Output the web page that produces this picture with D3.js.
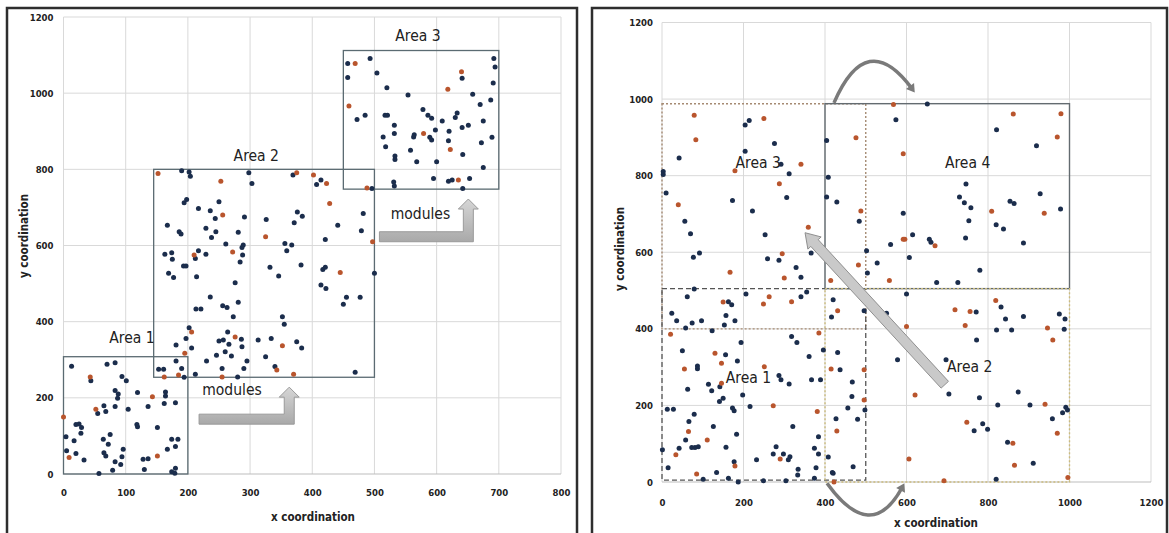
<!DOCTYPE html>
<html>
<head>
<meta charset="utf-8">
<script src="https://cdn.jsdelivr.net/npm/d3@7"></script>
<style>
  body { margin: 0; background: #fff; }
  svg { display: block; }
  .tick-label { font-family: "Liberation Sans Narrow", "DejaVu Sans Condensed", "Liberation Sans", sans-serif; font-weight: bold; font-size: 9.5px; fill: #222; }
  .axis-title { font-family: "Liberation Sans Narrow", "DejaVu Sans Condensed", "Liberation Sans", sans-serif; font-weight: bold; font-size: 11.5px; fill: #222; }
  .area-label { font-family: "Liberation Sans Narrow", "DejaVu Sans Condensed", "Liberation Sans", sans-serif; font-size: 15.5px; fill: #222; }
</style>
</head>
<body>
<div id="chart"></div>
<script>
// tick values
const leftXTicks = [0, 100, 200, 300, 400, 500, 600, 700, 800];
const leftYTicks = [0, 200, 400, 600, 800, 1000, 1200];
const rightXTicks = [0, 200, 400, 600, 800, 1000, 1200];
const rightYTicks = [0, 200, 400, 600, 800, 1000, 1200];

// left chart: module positions [x, y]
const leftNavy = [
  [13,283],[44,245],[70,288],[83,292],[94,256],[101,245],[119,214],[164,215],[164,205],[180,187],
  [83,219],[88,210],[87,199],[83,177],[104,170],[136,177],[162,185],[55,159],[65,179],[68,164],
  [20,130],[25,131],[29,122],[28,107],[17,87],[4,98],[5,61],[20,54],[33,37],[57,1],
  [64,91],[75,104],[72,78],[65,56],[68,47],[79,10],[83,32],[92,25],[96,65],[94,45],
  [128,39],[136,40],[130,12],[151,122],[118,130],[119,124],[167,65],[174,91],[184,91],[180,72],
  [174,6],[179,2],[180,15],
  [190,796],[202,793],[204,782],[298,791],[303,763],[369,785],[407,760],[414,772],[496,750],[194,712],
  [198,721],[217,697],[250,715],[236,691],[244,671],[291,675],[326,668],[376,688],[384,677],[371,660],
  [441,653],[482,684],[479,639],[167,653],[186,636],[189,630],[229,645],[245,636],[238,621],[281,635],
  [421,616],[261,604],[287,595],[289,601],[288,575],[356,605],[367,601],[359,586],[163,577],[174,581],
  [175,564],[212,566],[217,586],[229,577],[284,557],[193,546],[197,546],[332,543],[382,549],[417,537],
  [421,543],[500,527],[169,527],[177,516],[214,518],[346,520],[276,502],[414,496],[422,487],[236,465],
  [281,451],[256,442],[263,437],[455,464],[450,446],[477,464],[213,433],[221,433],[273,413],[352,413],
  [355,393],[202,384],[264,373],[286,354],[197,356],[181,339],[206,331],[250,349],[257,352],[266,341],
  [287,334],[313,352],[334,356],[375,347],[383,331],[260,321],[246,312],[270,310],[230,297],[295,297],
  [325,308],[181,297],[153,275],[161,275],[190,277],[255,277],[290,277],[340,282],[212,262],[469,267],
  [194,254],[280,255],
  [457,1078],[493,1091],[457,1041],[504,1053],[520,1014],[554,995],[472,931],[485,942],[517,942],[521,942],
  [532,916],[532,894],[514,885],[518,859],[533,835],[533,826],[563,885],[564,891],[558,850],[568,820],
  [578,957],[586,942],[592,934],[589,884],[592,877],[598,903],[609,927],[600,820],[620,900],[619,875],
  [630,936],[633,948],[641,1039],[641,910],[651,916],[642,839],[658,997],[670,970],[675,927],[672,870],
  [689,884],[687,982],[691,1027],[692,1091],[694,1069],[675,805],[595,776],[619,769],[625,772],[653,776],
  [642,750],[531,767],[532,756]
];
const leftOrange = [
  [43,255],[143,203],[52,170],[0,150],[9,43],[151,47],
  [152,789],[253,769],[375,791],[402,785],[423,763],[428,710],[488,751],[256,680],[325,623],[497,610],
  [272,583],[210,575],[445,529],[206,373],[276,360],[352,337],[195,317],[343,273],[370,262],[162,255],
  [185,260],[255,255],
  [469,1078],[459,966],[579,894],[622,852],[618,1010],[640,1056],[635,772]
];

// right chart: module positions [x, y]
const rightNavy = [
  [42,846],[3,811],[3,803],[10,755],[56,681],[70,648],[77,587],[92,598],[204,932],[214,944],
  [276,884],[204,864],[292,830],[312,805],[306,743],[173,735],[222,708],[253,646],[259,583],[287,579],
  [366,598],[329,560],[341,535],[404,892],[408,796],[404,744],[429,731],[574,946],[484,681],[502,604],
  [504,546],[528,572],[561,620],[592,702],
  [79,504],[62,484],[163,471],[171,463],[206,491],[341,484],[355,496],[420,476],[416,431],[496,447],
  [551,441],[24,441],[36,421],[74,415],[97,421],[58,402],[123,395],[157,435],[153,410],[179,421],
  [318,380],[331,364],[194,364],[50,343],[156,332],[185,316],[361,328],[396,345],[431,338],[87,303],
  [87,296],[437,293],[578,319],[63,242],[114,255],[122,238],[142,249],[287,278],[292,267],[312,256],
  [367,267],[389,267],[467,261],[466,223],[498,188],[150,219],[141,210],[198,227],[216,197],[173,193],
  [177,186],[13,190],[28,190],[79,177],[456,193],[427,165],[480,164],[66,158],[126,145],[321,145],
  [183,125],[58,110],[384,118],[1,84],[42,88],[73,90],[81,90],[89,92],[157,91],[280,92],
  [273,73],[298,73],[314,66],[310,58],[374,88],[384,73],[408,65],[232,58],[177,53],[15,37],
  [134,25],[334,33],[333,18],[378,37],[420,23],[469,40],[101,7],[163,10],[187,0],[249,3],
  [304,3],[374,10],[418,25],
  [651,987],[821,920],[919,878],[746,778],[730,744],[742,729],[758,716],[753,682],[854,733],[864,727],
  [928,753],[978,713],[820,672],[838,661],[745,637],[887,624],[615,646],[656,634],[660,626],[607,586],
  [780,553],
  [674,521],[726,521],[600,491],[832,457],[771,444],[843,426],[887,432],[975,439],[989,426],[821,397],
  [858,397],[987,399],[772,371],[697,319],[704,230],[779,220],[874,235],[824,201],[903,201],[983,181],
  [991,195],[995,188],[958,165],[766,134],[787,152],[799,138],[848,104],[911,49],[820,7]
];
const rightOrange = [
  [79,958],[83,894],[40,724],[167,548],[250,949],[179,813],[341,830],[288,779],[359,665],[295,596],
  [300,533],[476,899],[568,986],[592,857],[488,708],[482,567],[592,634],[414,526],[558,526],
  [150,470],[249,465],[263,484],[318,471],[431,447],[21,386],[385,389],[130,336],[146,310],[55,295],
  [251,301],[415,295],[496,293],[146,258],[496,214],[273,199],[381,184],[65,132],[429,133],[111,110],
  [34,71],[290,60],[179,42],[85,21],[422,0],
  [862,961],[979,962],[970,901],[809,707],[938,702],[596,634],[670,617],
  [819,474],[719,450],[756,445],[600,406],[744,409],[946,402],[959,371],[621,227],[940,203],[970,127],
  [748,156],[861,101],[606,60],[865,44],[692,3],[996,12]
];

// area boxes [x0, y0, x1, y1] in data units
const leftAreas = [
  { name: "Area 1", box: [0, 0, 200, 308], label: [110, 355] },
  { name: "Area 2", box: [145, 254, 500, 800], label: [310, 835] },
  { name: "Area 3", box: [450, 748, 700, 1112], label: [570, 1148] }
];
const rightAreas = [
  { name: "Area 3", box: [0, 400, 500, 988], kind: "dotBrown", label: [236, 833] },
  { name: "Area 1", box: [0, 5, 500, 505], kind: "dash", label: [212, 270] },
  { name: "Area 4", box: [400, 505, 1000, 988], kind: "solid", label: [750, 833] },
  { name: "Area 2", box: [400, 0, 1000, 505], kind: "dotKhaki", label: [755, 298] }
];

const W = 1169, H = 533;
const navy = "#1b2d4c", orange = "#b9552d";

const svg = d3.select("#chart").append("svg")
  .attr("width", W).attr("height", H);
svg.append("rect").attr("width", W).attr("height", H).attr("fill", "#fff");

function drawPanel(opt) {
  const g = svg.append("g");
  const { x, y } = opt;

  // grid
  g.selectAll(".vg").data(opt.xTicks).enter().append("line")
    .attr("x1", d => x(d)).attr("x2", d => x(d))
    .attr("y1", y.range()[0]).attr("y2", y.range()[1])
    .attr("stroke", "#d9d9d9").attr("stroke-width", 1);
  g.selectAll(".hg").data(opt.yTicks).enter().append("line")
    .attr("x1", x.range()[0]).attr("x2", x.range()[1])
    .attr("y1", d => y(d)).attr("y2", d => y(d))
    .attr("stroke", d => d === 0 ? "#bdbdbd" : "#d9d9d9").attr("stroke-width", 1);

  // axes (labels only)
  const xa = g.append("g").attr("transform", `translate(0,${y(0)})`)
    .call(d3.axisBottom(x).tickValues(opt.xTicks).tickSize(0).tickPadding(opt.xPad).tickFormat(d3.format("d")));
  const ya = g.append("g").attr("transform", `translate(${x(0)},0)`)
    .call(d3.axisLeft(y).tickValues(opt.yTicks).tickSize(0).tickPadding(opt.yPad).tickFormat(d3.format("d")));
  [xa, ya].forEach(a => {
    a.select(".domain").remove();
    a.selectAll("text").attr("class", "tick-label").attr("font-family", null).attr("font-size", null);
  });

  g.append("text").attr("class", "axis-title")
    .attr("x", opt.xTitle[0]).attr("y", opt.xTitle[1])
    .attr("text-anchor", "middle").attr("dominant-baseline", "middle")
    .text("x coordination");
  g.append("text").attr("class", "axis-title")
    .attr("transform", `translate(${opt.yTitle[0]},${opt.yTitle[1]}) rotate(-90)`)
    .attr("text-anchor", "middle").attr("dominant-baseline", "middle")
    .text("y coordination");
  return g;
}

function areaRect(g, x, y, a, stroke, dash, width) {
  const [x0, y0, x1, y1] = a.box;
  g.append("rect")
    .attr("x", x(x0)).attr("y", y(y1))
    .attr("width", x(x1) - x(x0)).attr("height", y(y0) - y(y1))
    .attr("fill", "none").attr("stroke", stroke)
    .attr("stroke-width", width).attr("stroke-dasharray", dash);
}

function dots(g, x, y, data, color) {
  g.selectAll(null).data(data).enter().append("circle")
    .attr("cx", d => x(d[0])).attr("cy", d => y(d[1]))
    .attr("r", 2.5).attr("fill", color);
}

function areaLabel(g, x, y, a) {
  g.append("text").attr("class", "area-label")
    .attr("x", x(a.label[0])).attr("y", y(a.label[1]))
    .attr("text-anchor", "middle").attr("dominant-baseline", "middle")
    .text(a.name);
}

// L-shaped "modules" arrow: start -> corner -> tip (tip above corner)
function lArrow(g, p0, p1, p2) {
  const t = 5, h = 10, L = 10;
  const pts = [
    [p0[0], p0[1] - t], [p1[0] - t, p0[1] - t], [p1[0] - t, p2[1] + L], [p1[0] - h, p2[1] + L],
    [p1[0], p2[1]], [p1[0] + h, p2[1] + L], [p1[0] + t, p2[1] + L], [p1[0] + t, p0[1] + t],
    [p0[0], p0[1] + t]
  ];
  g.append("path").attr("d", "M" + pts.join("L") + "Z")
    .attr("fill", "url(#arrowGrad)").attr("stroke", "#9a9a9a").attr("stroke-width", 1);
}

function straightArrow(g, tail, tip, t, h, L) {
  const dx = tip[0] - tail[0], dy = tip[1] - tail[1];
  const len = Math.hypot(dx, dy);
  const u = [dx / len, dy / len], n = [-u[1], u[0]];
  const b = [tip[0] - u[0] * L, tip[1] - u[1] * L];
  const P = (o, k) => [o[0] + n[0] * k, o[1] + n[1] * k];
  const pts = [P(tail, t), P(b, t), P(b, h), tip, P(b, -h), P(b, -t), P(tail, -t)];
  g.append("path").attr("d", "M" + pts.join("L") + "Z")
    .attr("fill", "#c9c9c9").attr("stroke", "#8f8f8f").attr("stroke-width", 1);
}

function curveArrow(g, p0, pm, p2) {
  const c = [2 * pm[0] - (p0[0] + p2[0]) / 2, 2 * pm[1] - (p0[1] + p2[1]) / 2];
  g.append("path").attr("d", `M${p0}Q${c} ${p2}`)
    .attr("fill", "none").attr("stroke", "#7a7a7a").attr("stroke-width", 3.5);
  const dx = p2[0] - c[0], dy = p2[1] - c[1], len = Math.hypot(dx, dy);
  const u = [dx / len, dy / len], n = [-u[1], u[0]];
  const tip = [p2[0] + u[0] * 5, p2[1] + u[1] * 5];
  const b = [p2[0] - u[0] * 3, p2[1] - u[1] * 3];
  g.append("path")
    .attr("d", `M${[b[0] + n[0] * 5, b[1] + n[1] * 5]}L${tip}L${[b[0] - n[0] * 5, b[1] - n[1] * 5]}Z`)
    .attr("fill", "#7a7a7a");
}

const defs = svg.append("defs");
const grad = defs.append("linearGradient").attr("id", "arrowGrad").attr("x1", 0).attr("y1", 0).attr("x2", 0).attr("y2", 1);
grad.append("stop").attr("offset", "0%").attr("stop-color", "#d6d6d6");
grad.append("stop").attr("offset", "100%").attr("stop-color", "#a9a9a9");

// ---------- LEFT PANEL ----------
const lx = d3.scaleLinear().domain([0, 800]).range([63.5, 561]);
const ly = d3.scaleLinear().domain([0, 1200]).range([474, 17]);
svg.append("rect").attr("x", 7).attr("y", 8).attr("width", 570).attr("height", 545)
  .attr("fill", "none").attr("stroke", "#2e2e2e").attr("stroke-width", 2.5);
const gl = drawPanel({ x: lx, y: ly, xTicks: leftXTicks, yTicks: leftYTicks, xPad: 15, yPad: 10,
  xTitle: [313, 517], yTitle: [24, 236] });
leftAreas.forEach(a => areaRect(gl, lx, ly, a, "#5b6b72", null, 1.3));
dots(gl, lx, ly, leftNavy, navy);
dots(gl, lx, ly, leftOrange, orange);
leftAreas.forEach(a => areaLabel(gl, lx, ly, a));
lArrow(gl, [lx(218), ly(144)], [lx(363), ly(144)], [lx(363), ly(228)]);
lArrow(gl, [lx(508), ly(623)], [lx(651), ly(623)], [lx(651), ly(722)]);
gl.append("text").attr("class", "area-label").attr("x", lx(271)).attr("y", ly(218))
  .attr("text-anchor", "middle").attr("dominant-baseline", "middle").text("modules");
gl.append("text").attr("class", "area-label").attr("x", lx(574)).attr("y", ly(682))
  .attr("text-anchor", "middle").attr("dominant-baseline", "middle").text("modules");

// ---------- RIGHT PANEL ----------
const rx = d3.scaleLinear().domain([0, 1200]).range([662, 1151]);
const ry = d3.scaleLinear().domain([0, 1200]).range([482, 22.5]);
svg.append("rect").attr("x", 592).attr("y", 8).attr("width", 575).attr("height", 545)
  .attr("fill", "none").attr("stroke", "#2e2e2e").attr("stroke-width", 2.5);
const gr = drawPanel({ x: rx, y: ry, xTicks: rightXTicks, yTicks: rightYTicks, xPad: 17, yPad: 9,
  xTitle: [936, 523], yTitle: [620, 249] });
const styles = {
  dotBrown: ["#a58a72", "2,2", 1.4],
  dash: ["#555", "5,3", 1.3],
  solid: ["#636b70", null, 1.4],
  dotKhaki: ["#cbbb7c", "2,2", 1.4]
};
rightAreas.forEach(a => { const s = styles[a.kind]; areaRect(gr, rx, ry, a, s[0], s[1], s[2]); });
dots(gr, rx, ry, rightNavy, navy);
dots(gr, rx, ry, rightOrange, orange);
straightArrow(gr, [rx(694), ry(254)], [rx(351), ry(651)], 5, 9, 14);
curveArrow(gr, [rx(422), ry(990)], [rx(510), ry(1098)], [rx(613), ry(1028)]);
curveArrow(gr, [rx(405), ry(-3)], [rx(505), ry(-86)], [rx(589), ry(-15)]);
rightAreas.forEach(a => areaLabel(gr, rx, ry, a));
</script>
</body>
</html>
